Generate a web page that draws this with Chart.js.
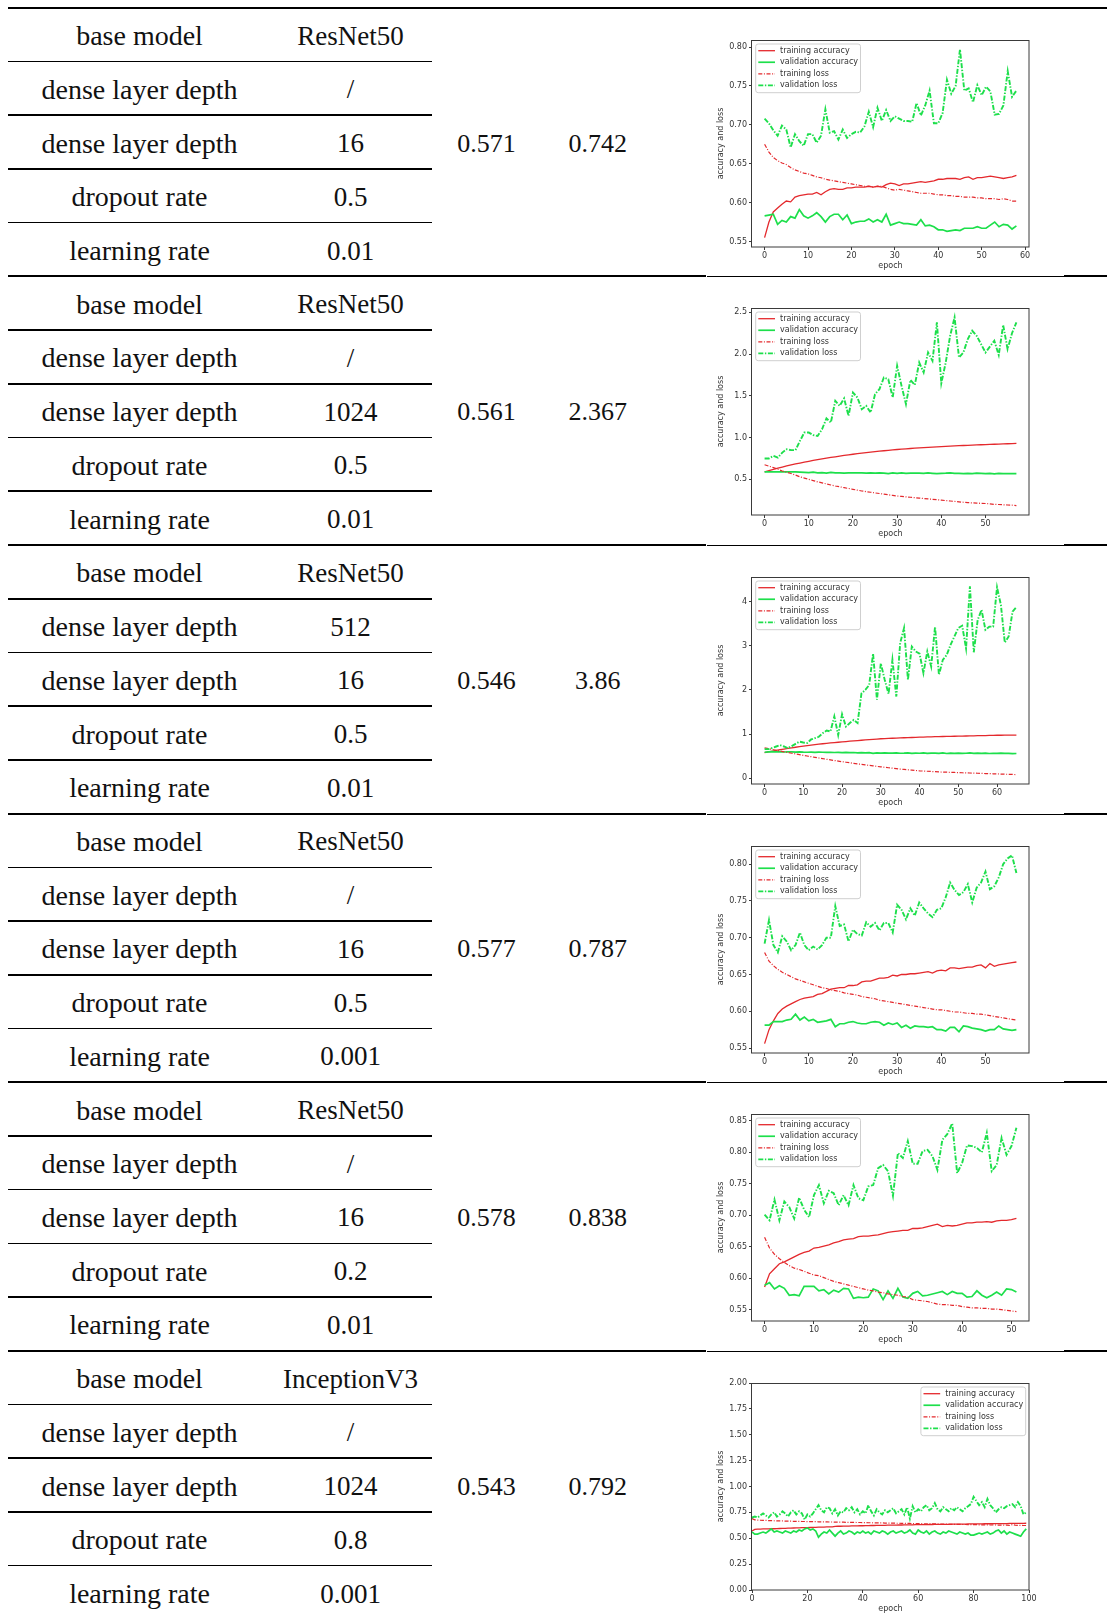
<!DOCTYPE html>
<html><head><meta charset="utf-8">
<script src="https://cdn.jsdelivr.net/npm/chart.js@4.4.1/dist/chart.umd.min.js"></script>
<style>
html,body{margin:0;padding:0;background:#fff;}
#page{position:relative;width:1107px;height:1614px;overflow:hidden;background:#fff;}
.hl{position:absolute;background:#000;}
.cell{position:absolute;width:240px;height:53.72px;display:flex;align-items:center;justify-content:center;font-family:"Liberation Serif","Times New Roman",serif;font-size:27px;color:#111;white-space:nowrap;padding-top:3px;box-sizing:border-box;}
canvas{position:absolute;}
</style></head><body><div id="page"></div>
<script>
// ---------------- table data ----------------
const paramLabels = ['base model', 'dense layer depth', 'dense layer depth', 'dropout rate', 'learning rate'];
const baseModels = ['ResNet50', 'ResNet50', 'ResNet50', 'ResNet50', 'ResNet50', 'InceptionV3'];
const denseDepth1 = ['/', '/', '512', '/', '/', '/'];
const denseDepth2 = ['16', '1024', '16', '16', '16', '1024'];
const dropoutRates = ['0.5', '0.5', '0.5', '0.5', '0.2', '0.8'];
const learningRates = ['0.01', '0.01', '0.01', '0.001', '0.01', '0.001'];
const accuracyCol = ['0.571', '0.561', '0.546', '0.577', '0.578', '0.543'];
const lossCol = ['0.742', '2.367', '3.86', '0.787', '0.838', '0.792'];

// ---------------- chart data ----------------
const seriesLabels = ['training accuracy', 'validation accuracy', 'training loss', 'validation loss'];

// chart 1 (epochs 0..58)
const c1TrainAcc = [.555,.575,.588,.593,.598,.602,.601,.607,.609,.610,.611,.611,.613,.610,.614,.617,.618,.617,.617,.619,.619,.620,.620,.620,.621,.620,.621,.620,.623,.625,.624,.622,.624,.624,.625,.626,.627,.626,.627,.628,.630,.630,.631,.631,.631,.630,.632,.633,.630,.632,.632,.633,.634,.633,.632,.631,.632,.633,.635];
const c1ValAcc = [.583,.584,.585,.572,.577,.575,.582,.580,.591,.583,.580,.583,.587,.582,.575,.582,.585,.585,.578,.584,.573,.575,.576,.576,.579,.575,.578,.575,.585,.571,.573,.575,.573,.573,.572,.571,.578,.570,.571,.569,.565,.565,.563,.564,.565,.564,.567,.567,.567,.569,.567,.567,.571,.575,.569,.572,.571,.566,.570];
const c1TrainLoss = [.675,.665,.658,.654,.651,.649,.645,.642,.640,.638,.637,.635,.633,.632,.630,.629,.628,.627,.626,.625,.624,.623,.622,.621,.621,.620,.621,.621,.619,.617,.616,.617,.616,.615,.614,.613,.612,.612,.612,.611,.610,.610,.609,.609,.608,.608,.607,.607,.607,.606,.606,.605,.605,.605,.604,.605,.604,.602,.602];
const c1ValLoss = [.708,.702,.693,.686,.699,.694,.671,.688,.679,.673,.688,.688,.677,.686,.720,.690,.692,.681,.694,.683,.688,.691,.690,.698,.717,.697,.722,.705,.719,.705,.711,.708,.705,.705,.704,.728,.712,.725,.744,.702,.702,.715,.758,.740,.750,.797,.744,.747,.729,.751,.738,.749,.743,.713,.714,.725,.769,.736,.744];
const c1XTicks = [0, 10, 20, 30, 40, 50, 60];
const c1YTicks = [0.55, 0.60, 0.65, 0.70, 0.75, 0.80];

// chart 2 (epochs 0..57)
const c2TrainAcc = [.590,.605,.620,.634,.647,.660,.672,.684,.695,.706,.716,.726,.736,.745,.754,.762,.770,.778,.786,.793,.800,.807,.813,.819,.825,.831,.837,.842,.847,.852,.857,.861,.865,.869,.873,.876,.880,.883,.886,.889,.892,.895,.898,.900,.903,.905,.907,.910,.912,.914,.916,.918,.920,.922,.924,.926,.928,.930];
const c2ValAcc = [.590,.590,.590,.590,.590,.589,.589,.588,.585,.582,.580,.585,.578,.580,.575,.583,.578,.577,.574,.576,.578,.576,.578,.575,.577,.575,.576,.573,.568,.576,.572,.577,.572,.574,.575,.573,.570,.576,.572,.568,.570,.573,.578,.572,.570,.568,.572,.568,.573,.570,.568,.571,.566,.570,.569,.567,.568,.567];
const c2TrainLoss = [.675,.657,.640,.620,.600,.585,.570,.550,.530,.515,.500,.485,.470,.457,.445,.432,.420,.410,.400,.390,.380,.370,.360,.352,.345,.337,.330,.322,.315,.307,.300,.295,.290,.285,.280,.275,.270,.265,.260,.255,.250,.245,.240,.235,.230,.225,.220,.218,.215,.212,.210,.205,.200,.198,.195,.192,.190,.185];
const c2ValLoss = [.75,.75,.78,.76,.82,.86,.85,.85,.96,1.06,1.06,1.03,1.02,1.10,1.23,1.18,1.44,1.38,1.47,1.26,1.54,1.48,1.34,1.38,1.30,1.52,1.58,1.72,1.70,1.48,1.86,1.62,1.40,1.69,1.63,1.90,1.78,2.02,1.92,2.38,1.65,1.90,2.22,2.44,1.96,2.02,2.18,2.28,2.22,2.12,2.02,2.09,2.16,1.99,2.35,2.06,2.25,2.38];
const c2XTicks = [0, 10, 20, 30, 40, 50];
const c2YTicks = [0.5, 1.0, 1.5, 2.0, 2.5];

// chart 3 (epochs 0..65)
const c3TrainAcc = [.580,.598,.615,.632,.648,.663,.677,.690,.703,.716,.728,.740,.751,.762,.772,.782,.791,.800,.808,.816,.824,.832,.840,.848,.855,.862,.869,.876,.883,.889,.895,.899,.903,.907,.911,.915,.918,.921,.924,.927,.930,.933,.936,.939,.942,.944,.946,.948,.950,.952,.954,.956,.958,.960,.962,.964,.966,.968,.970,.972,.974,.975,.976,.977,.978,.979];
const c3ValAcc = [.590,.600,.605,.598,.602,.596,.600,.598,.595,.597,.592,.590,.594,.588,.592,.590,.586,.589,.585,.588,.583,.586,.580,.584,.578,.582,.576,.580,.565,.578,.570,.575,.572,.570,.575,.568,.572,.578,.566,.572,.568,.575,.565,.572,.570,.566,.574,.562,.570,.566,.572,.564,.568,.575,.563,.570,.566,.572,.562,.568,.565,.570,.563,.566,.561,.562];
const c3TrainLoss = [.690,.672,.654,.636,.618,.600,.584,.568,.552,.536,.520,.505,.490,.475,.460,.445,.431,.417,.404,.390,.377,.364,.352,.340,.327,.315,.304,.293,.282,.271,.260,.250,.240,.230,.220,.210,.202,.194,.186,.178,.170,.165,.160,.155,.150,.145,.142,.139,.136,.133,.130,.127,.124,.121,.118,.115,.112,.109,.106,.103,.100,.097,.094,.091,.088,.085];
const c3ValLoss = [.66,.66,.69,.72,.75,.72,.68,.73,.78,.83,.81,.80,.88,.91,.94,1.02,1.08,1.06,1.40,.98,1.45,1.17,1.25,1.32,1.25,1.92,2.00,2.11,2.82,1.78,2.60,2.23,1.91,2.68,1.85,3.06,3.40,2.23,2.98,2.87,2.82,2.38,2.87,2.53,3.43,2.34,2.68,2.79,3.02,3.21,3.40,3.45,2.94,4.34,2.85,3.58,3.81,3.36,3.43,3.43,4.32,3.92,3.07,3.21,3.77,3.87];
const c3XTicks = [0, 10, 20, 30, 40, 50, 60];
const c3YTicks = [0, 1, 2, 3, 4];

// chart 4 (epochs 0..57)
const c4TrainAcc = [.556,.575,.587,.597,.603,.607,.610,.613,.616,.618,.619,.620,.623,.624,.627,.630,.631,.632,.632,.635,.635,.636,.640,.641,.641,.643,.645,.645,.646,.649,.648,.650,.650,.651,.651,.652,.653,.654,.652,.655,.656,.655,.659,.659,.658,.659,.660,.660,.662,.663,.659,.665,.661,.663,.664,.665,.666,.667];
const c4ValAcc = [.581,.581,.586,.586,.586,.588,.589,.596,.588,.592,.587,.589,.585,.586,.587,.589,.579,.583,.583,.585,.586,.584,.583,.583,.585,.586,.585,.581,.584,.582,.584,.578,.581,.577,.580,.579,.579,.578,.579,.575,.575,.573,.578,.578,.572,.580,.579,.577,.576,.575,.573,.575,.575,.580,.576,.575,.574,.575];
const c4TrainLoss = [.680,.668,.662,.657,.653,.650,.647,.644,.642,.640,.638,.636,.634,.632,.631,.629,.628,.627,.625,.624,.623,.622,.620,.619,.618,.617,.615,.614,.613,.612,.611,.610,.609,.608,.607,.606,.605,.604,.603,.602,.602,.601,.600,.599,.599,.598,.597,.597,.596,.596,.595,.594,.593,.592,.591,.590,.589,.588];
const c4ValLoss = [.692,.724,.690,.680,.702,.695,.683,.690,.707,.690,.683,.688,.684,.690,.700,.700,.743,.716,.718,.695,.711,.705,.703,.721,.715,.720,.710,.720,.720,.707,.745,.738,.725,.740,.730,.748,.740,.733,.728,.738,.740,.755,.775,.765,.758,.762,.773,.748,.768,.775,.790,.766,.770,.782,.800,.808,.812,.788];
const c4XTicks = [0, 10, 20, 30, 40, 50];
const c4YTicks = [0.55, 0.60, 0.65, 0.70, 0.75, 0.80];

// chart 5 (epochs 0..51)
const c5TrainAcc = [.586,.607,.615,.623,.626,.630,.634,.638,.641,.643,.648,.649,.651,.653,.656,.658,.661,.662,.663,.666,.667,.667,.668,.669,.671,.673,.674,.675,.676,.676,.679,.679,.680,.682,.684,.686,.682,.684,.683,.684,.686,.688,.688,.689,.689,.690,.689,.691,.692,.692,.693,.695];
const c5ValAcc = [.589,.593,.583,.588,.584,.573,.574,.572,.587,.587,.587,.580,.582,.575,.581,.578,.584,.583,.568,.570,.569,.570,.583,.580,.566,.580,.568,.584,.570,.568,.576,.579,.572,.573,.575,.577,.579,.574,.579,.576,.576,.570,.571,.580,.573,.569,.573,.578,.573,.583,.582,.578];
const c5TrainLoss = [.665,.648,.638,.631,.625,.620,.616,.614,.611,.608,.605,.604,.601,.598,.595,.593,.591,.589,.587,.585,.583,.581,.580,.578,.577,.575,.574,.573,.571,.570,.566,.565,.564,.563,.561,.559,.558,.558,.557,.557,.555,.554,.553,.553,.552,.552,.551,.551,.550,.549,.548,.547];
const c5ValLoss = [.701,.692,.725,.692,.722,.713,.695,.728,.709,.697,.732,.748,.719,.739,.735,.716,.732,.716,.748,.727,.724,.746,.748,.775,.780,.770,.731,.799,.791,.818,.782,.782,.802,.804,.794,.772,.820,.829,.846,.767,.783,.811,.810,.807,.800,.831,.770,.780,.823,.796,.810,.839];
const c5XTicks = [0, 10, 20, 30, 40, 50];
const c5YTicks = [0.55, 0.60, 0.65, 0.70, 0.75, 0.80, 0.85];

// chart 6 (epochs 0..99)
const c6TrainAcc = [.570,.585,.588,.589,.590,.590,.591,.592,.592,.593,.594,.595,.596,.597,.598,.599,.600,.601,.602,.603,.603,.604,.605,.606,.607,.607,.608,.609,.610,.610,.615,.616,.616,.617,.618,.618,.619,.620,.620,.621,.621,.622,.622,.623,.623,.624,.624,.625,.625,.626,.626,.627,.627,.628,.628,.629,.629,.630,.630,.631,.631,.632,.632,.632,.633,.633,.634,.634,.634,.635,.635,.635,.636,.636,.636,.637,.637,.637,.638,.638,.638,.639,.639,.639,.640,.640,.640,.641,.641,.641,.642,.642,.642,.643,.643,.643,.644,.644,.644,.645];
const c6ValAcc = [.56,.54,.54,.55,.56,.55,.57,.59,.56,.57,.56,.55,.57,.56,.55,.57,.56,.58,.57,.59,.60,.58,.59,.57,.51,.54,.56,.55,.58,.55,.52,.55,.57,.54,.55,.57,.56,.54,.56,.55,.57,.55,.56,.54,.57,.56,.55,.57,.56,.54,.56,.57,.55,.56,.57,.55,.56,.58,.55,.54,.58,.56,.55,.57,.54,.56,.57,.55,.54,.56,.55,.57,.56,.55,.54,.56,.55,.54,.55,.53,.53,.54,.55,.54,.55,.56,.54,.55,.57,.58,.55,.57,.54,.56,.55,.54,.53,.52,.56,.59];
const c6TrainLoss = [.690,.678,.676,.674,.673,.672,.671,.670,.669,.668,.667,.667,.666,.665,.665,.664,.663,.663,.662,.662,.661,.661,.660,.660,.659,.659,.658,.658,.657,.657,.656,.656,.655,.655,.654,.654,.653,.653,.652,.652,.651,.651,.650,.650,.649,.649,.648,.648,.647,.647,.646,.646,.645,.645,.644,.644,.643,.643,.642,.642,.641,.641,.640,.640,.639,.639,.638,.638,.637,.637,.636,.636,.635,.635,.634,.634,.633,.633,.632,.632,.631,.631,.630,.630,.629,.629,.628,.630,.628,.627,.627,.626,.626,.625,.632,.626,.624,.624,.623,.623];
const c6ValLoss = [.70,.71,.70,.72,.74,.72,.70,.73,.75,.71,.73,.76,.74,.71,.75,.77,.73,.76,.74,.68,.73,.71,.74,.78,.82,.77,.75,.80,.79,.74,.78,.72,.76,.75,.79,.77,.80,.75,.78,.73,.76,.74,.82,.76,.72,.78,.75,.73,.77,.75,.77,.79,.74,.76,.78,.73,.80,.69,.81,.75,.78,.76,.80,.82,.77,.79,.84,.78,.76,.80,.78,.76,.79,.77,.80,.78,.76,.79,.81,.83,.90,.86,.82,.85,.80,.88,.82,.79,.75,.78,.80,.79,.81,.82,.83,.80,.85,.81,.73,.75];
const c6XTicks = [0, 20, 40, 60, 80, 100];
const c6YTicks = [0, 0.25, 0.50, 0.75, 1.00, 1.25, 1.50, 1.75, 2.00];
const c6XRange = [0, 100];
const c6YRange = [0, 2];

// ---------------- layout ----------------
const page = document.getElementById('page');
const G0 = 7.8, GH = 268.6, RH = GH / 5;

function addLine(x1, x2, y, t) {
  const d = document.createElement('div');
  d.className = 'hl';
  d.style.left = x1 + 'px'; d.style.width = (x2 - x1) + 'px';
  d.style.top = (y - t / 2) + 'px'; d.style.height = t + 'px';
  page.appendChild(d);
}
function addText(txt, cx, cy, size) {
  const d = document.createElement('div');
  d.className = 'cell';
  d.textContent = txt;
  d.style.fontSize = size + 'px';
  d.style.left = (cx - 120) + 'px';
  d.style.top = (cy - RH / 2) + 'px';
  page.appendChild(d);
}

addLine(8.2, 1107, G0, 2.2);
for (let k = 1; k <= 5; k++) {
  const y = G0 + GH * k;
  addLine(8.2, 706.5, y, 2.2);
  addLine(706.5, 1064, y + 0.5, 1.1);
  addLine(1064, 1107, y, 2.2);
}
const colValues = [baseModels, denseDepth1, denseDepth2, dropoutRates, learningRates];
for (let g = 0; g < 6; g++) {
  const top = G0 + GH * g;
  for (let i = 1; i <= 4; i++) addLine(8.2, 432.5, top + RH * i, 1.6);
  for (let i = 0; i < 5; i++) {
    const cy = top + RH * (i + 0.5);
    addText(paramLabels[i], 139.5, cy, 28);
    addText(colValues[i][g], 350.6, cy, 27);
  }
  addText(accuracyCol[g], 486.6, top + RH * 2.5, 26);
  addText(lossCol[g], 597.8, top + RH * 2.5, 26);
}

// ---------------- charts ----------------
const RED = '#e4292d', GREEN = '#1ddf4b', AX = '#3a3a3a', TXT = '#333333';
const FONT = 'DejaVu Sans';

const frameLegend = {
  id: 'frameLegend',
  afterDraw(chart, args, opts) {
    const {ctx, chartArea: a} = chart;
    ctx.save();
    ctx.strokeStyle = AX; ctx.lineWidth = 1; ctx.setLineDash([]);
    ctx.strokeRect(Math.round(a.left) - 0.5, Math.round(a.top) + 0.5, Math.round(a.right - a.left) + 0.5, Math.round(a.bottom - a.top) - 0.5);
    ctx.font = '8px "' + FONT + '"';
    const ds = chart.data.datasets;
    const tw = Math.max(...ds.map(d => ctx.measureText(d.label).width));
    const w = 24.3 + tw + 2.5, h = 48.7;
    const x0 = opts.corner === 'right' ? a.right - 3.3 - w : a.left + 3.7;
    const y0 = a.top + 4;
    const r = 2.5;
    ctx.beginPath();
    ctx.moveTo(x0 + r, y0); ctx.lineTo(x0 + w - r, y0); ctx.arcTo(x0 + w, y0, x0 + w, y0 + r, r);
    ctx.lineTo(x0 + w, y0 + h - r); ctx.arcTo(x0 + w, y0 + h, x0 + w - r, y0 + h, r);
    ctx.lineTo(x0 + r, y0 + h); ctx.arcTo(x0, y0 + h, x0, y0 + h - r, r);
    ctx.lineTo(x0, y0 + r); ctx.arcTo(x0, y0, x0 + r, y0, r); ctx.closePath();
    ctx.fillStyle = 'rgba(255,255,255,0.85)'; ctx.fill();
    ctx.strokeStyle = '#cfcfcf'; ctx.lineWidth = 1; ctx.stroke();
    ds.forEach((d, i) => {
      const y = y0 + 6.7 + i * 11.55;
      ctx.beginPath();
      ctx.strokeStyle = d.borderColor; ctx.lineWidth = d.borderWidth;
      ctx.setLineDash(d.borderDash || []);
      ctx.moveTo(x0 + 2.6, y); ctx.lineTo(x0 + 19.3, y); ctx.stroke();
      ctx.setLineDash([]);
      ctx.fillStyle = TXT; ctx.textBaseline = 'middle'; ctx.textAlign = 'left';
      ctx.fillText(d.label, x0 + 24.3, y);
    });
    ctx.restore();
  }
};

const chartDefs = [
  {acc: c1TrainAcc, vacc: c1ValAcc, loss: c1TrainLoss, vloss: c1ValLoss, xt: c1XTicks, yt: c1YTicks, dec: 2, corner: 'left'},
  {acc: c2TrainAcc, vacc: c2ValAcc, loss: c2TrainLoss, vloss: c2ValLoss, xt: c2XTicks, yt: c2YTicks, dec: 1, corner: 'left'},
  {acc: c3TrainAcc, vacc: c3ValAcc, loss: c3TrainLoss, vloss: c3ValLoss, xt: c3XTicks, yt: c3YTicks, dec: 0, corner: 'left'},
  {acc: c4TrainAcc, vacc: c4ValAcc, loss: c4TrainLoss, vloss: c4ValLoss, xt: c4XTicks, yt: c4YTicks, dec: 2, corner: 'left'},
  {acc: c5TrainAcc, vacc: c5ValAcc, loss: c5TrainLoss, vloss: c5ValLoss, xt: c5XTicks, yt: c5YTicks, dec: 2, corner: 'left'},
  {acc: c6TrainAcc, vacc: c6ValAcc, loss: c6TrainLoss, vloss: c6ValLoss, xt: c6XTicks, yt: c6YTicks, dec: 2, corner: 'right', xr: c6XRange, yr: c6YRange}
];

const toXY = arr => arr.map((v, i) => ({x: i, y: v}));

chartDefs.forEach((c, g) => {
  const cv = document.createElement('canvas');
  cv.width = 358; cv.height = 262;
  cv.style.left = '706px';
  cv.style.top = (G0 + GH * g + 4) + 'px';
  cv.style.width = '358px'; cv.style.height = '262px';
  page.appendChild(cv);

  const all = [].concat(c.acc, c.vacc, c.loss, c.vloss);
  const lo = Math.min(...all), hi = Math.max(...all), n = c.acc.length - 1;
  const yr = c.yr || [lo - 0.05 * (hi - lo), hi + 0.05 * (hi - lo)];
  const xr = c.xr || [-0.05 * n, 1.05 * n];
  const tickFont = {family: FONT, size: 8};

  new Chart(cv, {
    type: 'line',
    data: {
      datasets: [
        {label: seriesLabels[0], data: toXY(c.acc), borderColor: RED, borderWidth: 1.3, order: 4},
        {label: seriesLabels[1], data: toXY(c.vacc), borderColor: GREEN, borderWidth: 1.7, order: 3},
        {label: seriesLabels[2], data: toXY(c.loss), borderColor: RED, borderWidth: 1.2, borderDash: [4, 1.6, 1, 1.6], order: 2},
        {label: seriesLabels[3], data: toXY(c.vloss), borderColor: GREEN, borderWidth: 1.9, borderDash: [5, 1.6, 1.4, 1.6], order: 1}
      ]
    },
    options: {
      responsive: false, animation: false, devicePixelRatio: 1,
      elements: {point: {radius: 0}, line: {tension: 0, fill: false}},
      layout: {padding: {left: 6, right: 35, top: 28, bottom: 2}},
      plugins: {legend: {display: false}, tooltip: {enabled: false}, frameLegend: {corner: c.corner}},
      scales: {
        x: {
          type: 'linear', min: xr[0], max: xr[1],
          afterBuildTicks: s => { s.ticks = c.xt.map(v => ({value: v})); },
          afterFit: s => { s.height = 25; s.paddingLeft = 0; s.paddingRight = 0; },
          grid: {display: true, drawOnChartArea: false, drawTicks: true, tickLength: 3, color: AX, lineWidth: 1},
          border: {display: false},
          ticks: {font: tickFont, color: TXT, padding: 1, autoSkip: false, maxRotation: 0, callback: v => String(v)},
          title: {display: true, text: 'epoch', font: tickFont, color: TXT, padding: {top: 0, bottom: 1}}
        },
        y: {
          type: 'linear', min: yr[0], max: yr[1],
          afterBuildTicks: s => { s.ticks = c.yt.map(v => ({value: v})); },
          afterFit: s => { s.width = 40; s.paddingTop = 0; s.paddingBottom = 0; },
          grid: {display: true, drawOnChartArea: false, drawTicks: true, tickLength: 3, color: AX, lineWidth: 1},
          border: {display: false},
          ticks: {font: tickFont, color: TXT, padding: 2, autoSkip: false, callback: v => Number(v).toFixed(c.dec)},
          title: {display: true, text: 'accuracy and loss', font: tickFont, color: TXT, padding: {top: 4, bottom: 0}}
        }
      }
    },
    plugins: [frameLegend]
  });
});
</script>
</body></html>
